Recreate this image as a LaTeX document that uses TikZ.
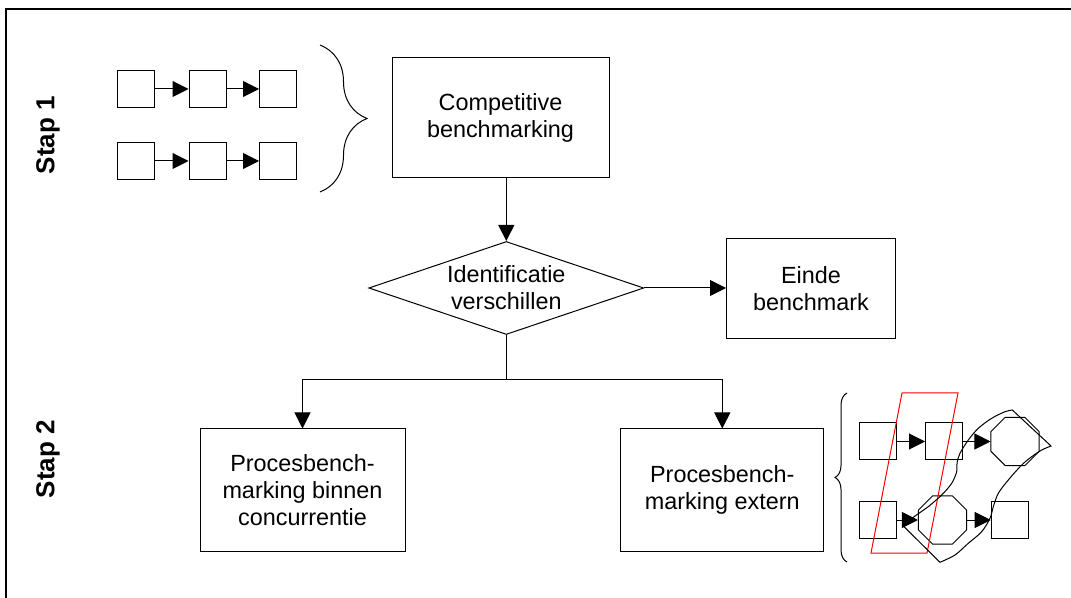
\documentclass[tikz,border=0pt]{standalone}
\usepackage{fontspec}
\setmainfont{Liberation Sans}
\usetikzlibrary{arrows.meta,shapes.geometric,decorations.pathreplacing}
\begin{document}
\begin{tikzpicture}[x=0.5pt,y=-0.5pt,
		box/.style={draw, line width=0.5pt, align=center, inner sep=0pt},
		dia/.style={diamond, draw, line width=0.5pt, align=center, inner sep=0pt,
			aspect=3, minimum width=137.5pt, minimum height=46.5pt},
		sq/.style={draw, line width=0.5pt, minimum size=18.5pt, inner sep=0pt},
		oct/.style={regular polygon, regular polygon sides=8, draw,
			line width=0.5pt, minimum size=26pt, inner sep=0pt},
		lbl/.style={rotate=90, font=\bfseries\fontsize{13}{15}\selectfont},
		arr/.style={-{Triangle[length=8pt,width=8pt]}, line width=0.5pt},
		brc/.style={decorate, decoration={brace, amplitude=#1}, line width=0.5pt}]
		\fontsize{11.7}{13.6}\selectfont
		\useasboundingbox (0,0) rectangle (1071,598);
		\draw[line width=1.2pt] (6,598) -- (6,9) -- (1071,9);
		\node[lbl] (stap1) at (48,135) {Stap 1};
		\node[lbl] (stap2) at (48,459) {Stap 2};
		\foreach \r/\y in {1/89,2/161}{
			\foreach \c/\x in {1/135.5,2/207.5,3/278}
				\node[sq] (s\r\c) at (\x,\y) {};
			\draw[arr] (s\r1) -- (s\r2);
			\draw[arr] (s\r2) -- (s\r3);
		}
		\draw[brc=23.5pt] (320,45) -- (320,192);
		\node[box, minimum width=108.5pt, minimum height=60pt] (comp) at (500.5,118)
			{Competitive\\benchmarking};
		\node[dia] (ident) at (506.3,288) {Identificatie\\verschillen};
		\node[box, minimum width=84.5pt, minimum height=50pt] (einde) at (811,289)
			{Einde\\benchmark};
		\node[box, minimum width=102.5pt, minimum height=61pt] (binnen) at (302.5,490)
			{Procesbench-\\marking binnen\\concurrentie};
		\node[box, minimum width=101.5pt, minimum height=61pt] (extern) at (722.3,490)
			{Procesbench-\\marking extern};
		\coordinate (split) at (506.3,380);
		\draw[arr] (ident.north |- comp.south) -- (ident.north);
		\draw[arr] (ident.east) -- (ident.east -| einde.west);
		\draw[line width=0.5pt] (ident.south) -- (split);
		\draw[arr] (split) -| (binnen);
		\draw[arr] (split) -| (extern);
		\draw[brc=6pt] (847,562) -- (847,393);
		\node[sq] (pa) at (877.5,441.5) {};
		\node[sq] (pb) at (944,441.5) {};
		\node[oct] (pc) at (1015,441.5) {};
		\node[sq] (pd) at (877.5,520) {};
		\node[oct] (pe) at (942.5,520) {};
		\node[sq] (pf) at (1009.7,520) {};
		\draw[arr] (pa) -- (pb);
		\draw[arr] (pb) -- (pc);
		\draw[arr] (pd) -- (pe);
		\draw[arr] (pe) -- (pf);
		\draw[red, line width=0.5pt] (902,393) -- (958,393) -- (927,553) -- (871,553) -- cycle;
		\draw[line width=0.5pt] (902.3,525) -- (928.3,506.7)
			-- plot[smooth] coordinates {(928.3,506.7) (941.7,495) (951.7,483.3) (956.7,471.7)
				(957,463) (960,453.3) (968.3,440) (978.3,428.3) (991.7,418.3) (1005,411.7) (1012.3,410)}
			-- (1051,446)
			-- plot[smooth] coordinates {(1051,446) (1041.7,450) (1031.7,456.7) (1021.7,465)
				(1008.3,480) (998.3,493.3) (993.3,506.7) (990,518.3) (981.7,531.7) (968.3,543.3)
				(955,555) (940,562.3)}
			-- cycle;
\end{tikzpicture}
\end{document}
